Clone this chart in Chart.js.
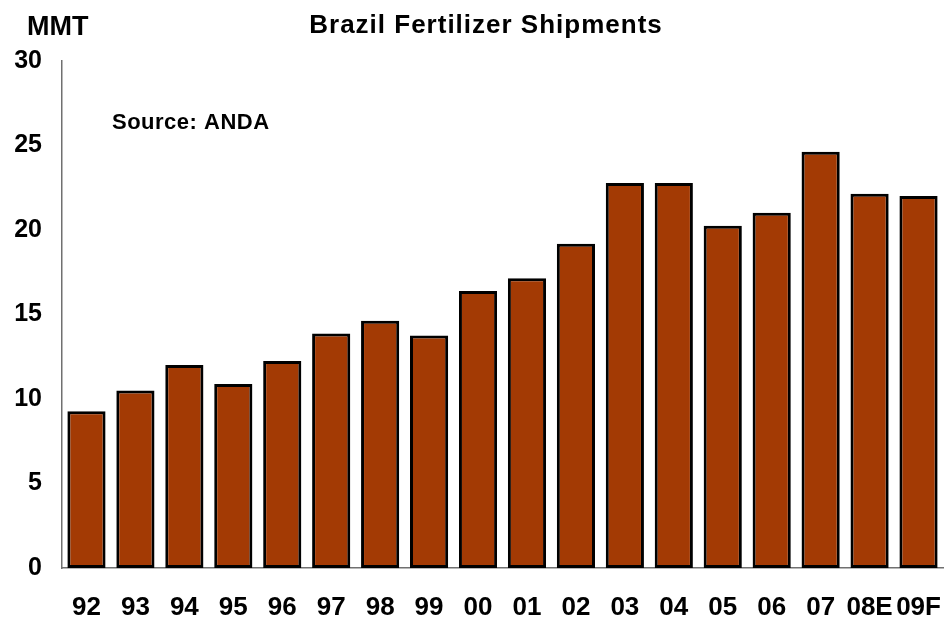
<!DOCTYPE html>
<html>
<head>
<meta charset="utf-8">
<script src="https://cdn.jsdelivr.net/npm/chart.js@4.4.1/dist/chart.umd.min.js"></script>
<style>
  html, body { margin: 0; padding: 0; background: #fff; }
  #wrap { width: 945px; height: 618px; }
</style>
</head>
<body>
<div id="wrap"><canvas id="chart" width="945" height="618"></canvas></div>
<script>
  // data (million metric tonnes)
  var years = ["92", "93", "94", "95", "96", "97", "98", "99", "00", "01",
               "02", "03", "04", "05", "06", "07", "08E", "09F"];
  var shipments = [9.27, 10.51, 12.01, 10.89, 12.25, 13.88, 14.63, 13.76, 16.39, 17.14,
                   19.19, 22.78, 22.78, 20.25, 21.02, 24.63, 22.15, 22.01];
  var yTicks = [0, 5, 10, 15, 20, 25, 30];

  var FONT = "'Liberation Sans', Arial, sans-serif";
  var BAR = "#A33A04";
  var AXIS = "#707070";

  // titles / unit / source note drawn on top of the chart
  var annotations = {
    id: "annotations",
    afterDraw: function (chart) {
      var ctx = chart.ctx;
      ctx.save();
      ctx.fillStyle = "#000";
      ctx.textBaseline = "alphabetic";
      ctx.font = "bold 27px " + FONT;
      ctx.textAlign = "left";
      ctx.fillText("MMT", 27, 35);
      ctx.font = "bold 26px " + FONT;
      ctx.letterSpacing = "1px";
      ctx.textAlign = "center";
      ctx.fillText("Brazil Fertilizer Shipments", 486, 33);
      ctx.font = "bold 22px " + FONT;
      ctx.letterSpacing = "0.5px";
      ctx.textAlign = "left";
      ctx.fillText("Source: ANDA", 112, 129);
      ctx.restore();
    }
  };

  new Chart(document.getElementById("chart").getContext("2d"), {
    type: "bar",
    data: {
      labels: years,
      datasets: [{
        data: shipments,
        backgroundColor: BAR,
        borderColor: "#000",
        borderWidth: 3,
        borderSkipped: false,
        barPercentage: 0.78,
        categoryPercentage: 1
      }]
    },
    options: {
      responsive: false,
      animation: false,
      layout: { padding: { top: 61, right: 2, left: 0, bottom: 0 } },
      plugins: { legend: { display: false }, tooltip: { enabled: false } },
      scales: {
        x: {
          grid: { display: false, drawTicks: false },
          border: { color: AXIS, width: 1.5 },
          ticks: { color: "#000", font: { family: FONT, size: 26, weight: "bold" }, padding: 24, maxRotation: 0, autoSkip: false },
          afterFit: function (s) { s.height = 50; s.paddingLeft = 0; s.paddingRight = 0; }
        },
        y: {
          min: 0, max: 30,
          grid: { display: false, drawTicks: false },
          border: { color: AXIS, width: 1.5 },
          afterBuildTicks: function (s) { s.ticks = yTicks.map(function (v) { return { value: v }; }); },
          ticks: { color: "#000", font: { family: FONT, size: 25, weight: "bold" }, padding: 20 },
          afterFit: function (s) { s.width = 62; }
        }
      }
    },
    plugins: [annotations]
  });
</script>
</body>
</html>
